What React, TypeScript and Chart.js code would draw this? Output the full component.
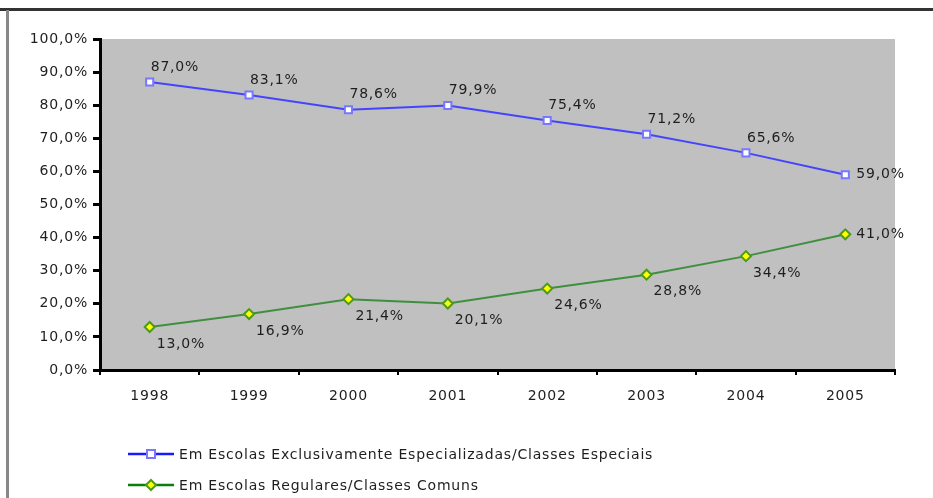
import React, { useEffect, useRef } from "react";
import { Chart, registerables } from "chart.js";

Chart.register(...registerables);

const years = ["1998", "1999", "2000", "2001", "2002", "2003", "2004", "2005"];
const especiais = [87.0, 83.1, 78.6, 79.9, 75.4, 71.2, 65.6, 59.0];
const comuns = [13.0, 16.9, 21.4, 20.1, 24.6, 28.8, 34.4, 41.0];
const seriesNames = [
  "Em Escolas Exclusivamente Especializadas/Classes Especiais",
  "Em Escolas Regulares/Classes Comuns",
];

const FONT = "'DejaVu Sans', sans-serif";
const TEXT = "#1e1e1e";
const SPACING = "0.8px";

const fmt = (v: number) => v.toFixed(1).replace(".", ",") + "%";

const plotBg = {
  id: "plotBg",
  beforeDraw(chart: any) {
    const { ctx, chartArea: a } = chart;
    ctx.letterSpacing = SPACING;
    ctx.save();
    ctx.fillStyle = "#C0C0C0";
    ctx.fillRect(a.left, a.top, a.right - a.left, a.bottom - a.top);
    ctx.restore();
  },
};

const drawMarker = (ctx: any, ds: any, x: number, y: number) => {
  const r = ds.pointRadius;
  ctx.save();
  ctx.fillStyle = ds.pointBackgroundColor;
  ctx.strokeStyle = ds.pointBorderColor;
  ctx.lineWidth = ds.pointBorderWidth;
  ctx.beginPath();
  if (ds.pointStyle === "rect") {
    ctx.rect(x - r * 0.8, y - r * 0.8, r * 1.6, r * 1.6);
  } else {
    ctx.moveTo(x, y - r);
    ctx.lineTo(x + r, y);
    ctx.lineTo(x, y + r);
    ctx.lineTo(x - r, y);
    ctx.closePath();
  }
  ctx.fill();
  ctx.stroke();
  ctx.restore();
};

const dataLabels = {
  id: "dataLabels",
  afterDatasetsDraw(chart: any) {
    const { ctx } = chart;
    ctx.save();
    ctx.letterSpacing = SPACING;
    ctx.font = `14px ${FONT}`;
    ctx.fillStyle = TEXT;
    ctx.textAlign = "left";
    ctx.textBaseline = "middle";
    chart.data.datasets.forEach((ds: any, di: number) => {
      const meta = chart.getDatasetMeta(di);
      meta.data.forEach((pt: any, i: number) => {
        const last = i === ds.data.length - 1;
        let dx = 0;
        let dy = 0;
        if (last) {
          dx = 11;
          dy = 0;
        } else if (di === 0) {
          dx = 1;
          dy = -15;
        } else {
          dx = 7;
          dy = 17;
        }
        ctx.fillText(fmt(ds.data[i]), pt.x + dx, pt.y + dy);
      });
    });
    ctx.restore();
  },
};

const customLegend = {
  id: "customLegend",
  afterDraw(chart: any) {
    const { ctx } = chart;
    const ys = [454, 485];
    ctx.save();
    ctx.letterSpacing = SPACING;
    chart.data.datasets.forEach((ds: any, di: number) => {
      const y = ys[di];
      ctx.strokeStyle = ds.legendLine;
      ctx.lineWidth = 2.5;
      ctx.beginPath();
      ctx.moveTo(128, y);
      ctx.lineTo(174, y);
      ctx.stroke();
      drawMarker(ctx, ds, 151, y);
      ctx.font = `14px ${FONT}`;
      ctx.fillStyle = TEXT;
      ctx.textAlign = "left";
      ctx.textBaseline = "middle";
      ctx.fillText(ds.label, 179, y + 1);
    });
    ctx.restore();
  },
};

export default function App() {
  const ref = useRef<HTMLCanvasElement | null>(null);

  useEffect(() => {
    if (!ref.current) return;
    const chart = new Chart(ref.current, {
      type: "line",
      data: {
        labels: years,
        datasets: [
          {
            label: seriesNames[0],
            data: especiais,
            borderColor: "#4444ff",
            borderWidth: 2,
            pointStyle: "rect",
            pointRadius: 5,
            pointBackgroundColor: "#ffffff",
            pointBorderColor: "#7777ff",
            pointBorderWidth: 2,
            legendLine: "#1a1aff",
            tension: 0,
          } as any,
          {
            label: seriesNames[1],
            data: comuns,
            borderColor: "#3f8f3f",
            borderWidth: 2,
            pointStyle: "rectRot",
            pointRadius: 5,
            pointBackgroundColor: "#ffff00",
            pointBorderColor: "#4c9a1c",
            pointBorderWidth: 2,
            legendLine: "#0a800a",
            tension: 0,
          } as any,
        ],
      },
      options: {
        animation: false,
        responsive: false,
        maintainAspectRatio: false,
        layout: { padding: { top: 39, right: 38, left: 0, bottom: 0 } },
        plugins: {
          legend: { display: false },
          tooltip: { enabled: false },
        },
        scales: {
          x: {
            type: "category",
            offset: true,
            grid: {
              display: true,
              drawOnChartArea: false,
              drawTicks: true,
              tickLength: 5,
              color: "#000",
              lineWidth: 2,
              offset: true,
            },
            border: { display: true, color: "#000", width: 3 },
            ticks: {
              font: { family: FONT, size: 14 },
              color: TEXT,
              padding: 13,
              maxRotation: 0,
              autoSkip: false,
            },
            afterFit: (s: any) => {
              s.height = 128;
            },
          },
          y: {
            min: 0,
            max: 100,
            grid: {
              display: true,
              drawOnChartArea: false,
              drawTicks: true,
              tickLength: 7,
              color: "#000",
              lineWidth: 3,
            },
            border: { display: true, color: "#000", width: 3 },
            ticks: {
              stepSize: 10,
              font: { family: FONT, size: 14 },
              color: TEXT,
              padding: 5,
              callback: (v: any) => fmt(Number(v)),
            },
            afterFit: (s: any) => {
              s.width = 100;
            },
          },
        },
      } as any,
      plugins: [plotBg, dataLabels, customLegend],
    });
    return () => chart.destroy();
  }, []);

  return (
    <div
      style={{
        position: "absolute",
        left: 0,
        top: 0,
        width: 933,
        height: 498,
        background: "#fff",
        overflow: "hidden",
      }}
    >
      <div
        style={{
          position: "absolute",
          left: 0,
          top: 8,
          width: 933,
          height: 3,
          background: "#333",
        }}
      />
      <div
        style={{
          position: "absolute",
          left: 6,
          top: 10,
          width: 3,
          height: 488,
          background: "#888",
        }}
      />
      <canvas
        ref={ref}
        width={933}
        height={498}
        style={{ position: "absolute", left: 0, top: 0, width: 933, height: 498 }}
      />
    </div>
  );
}
